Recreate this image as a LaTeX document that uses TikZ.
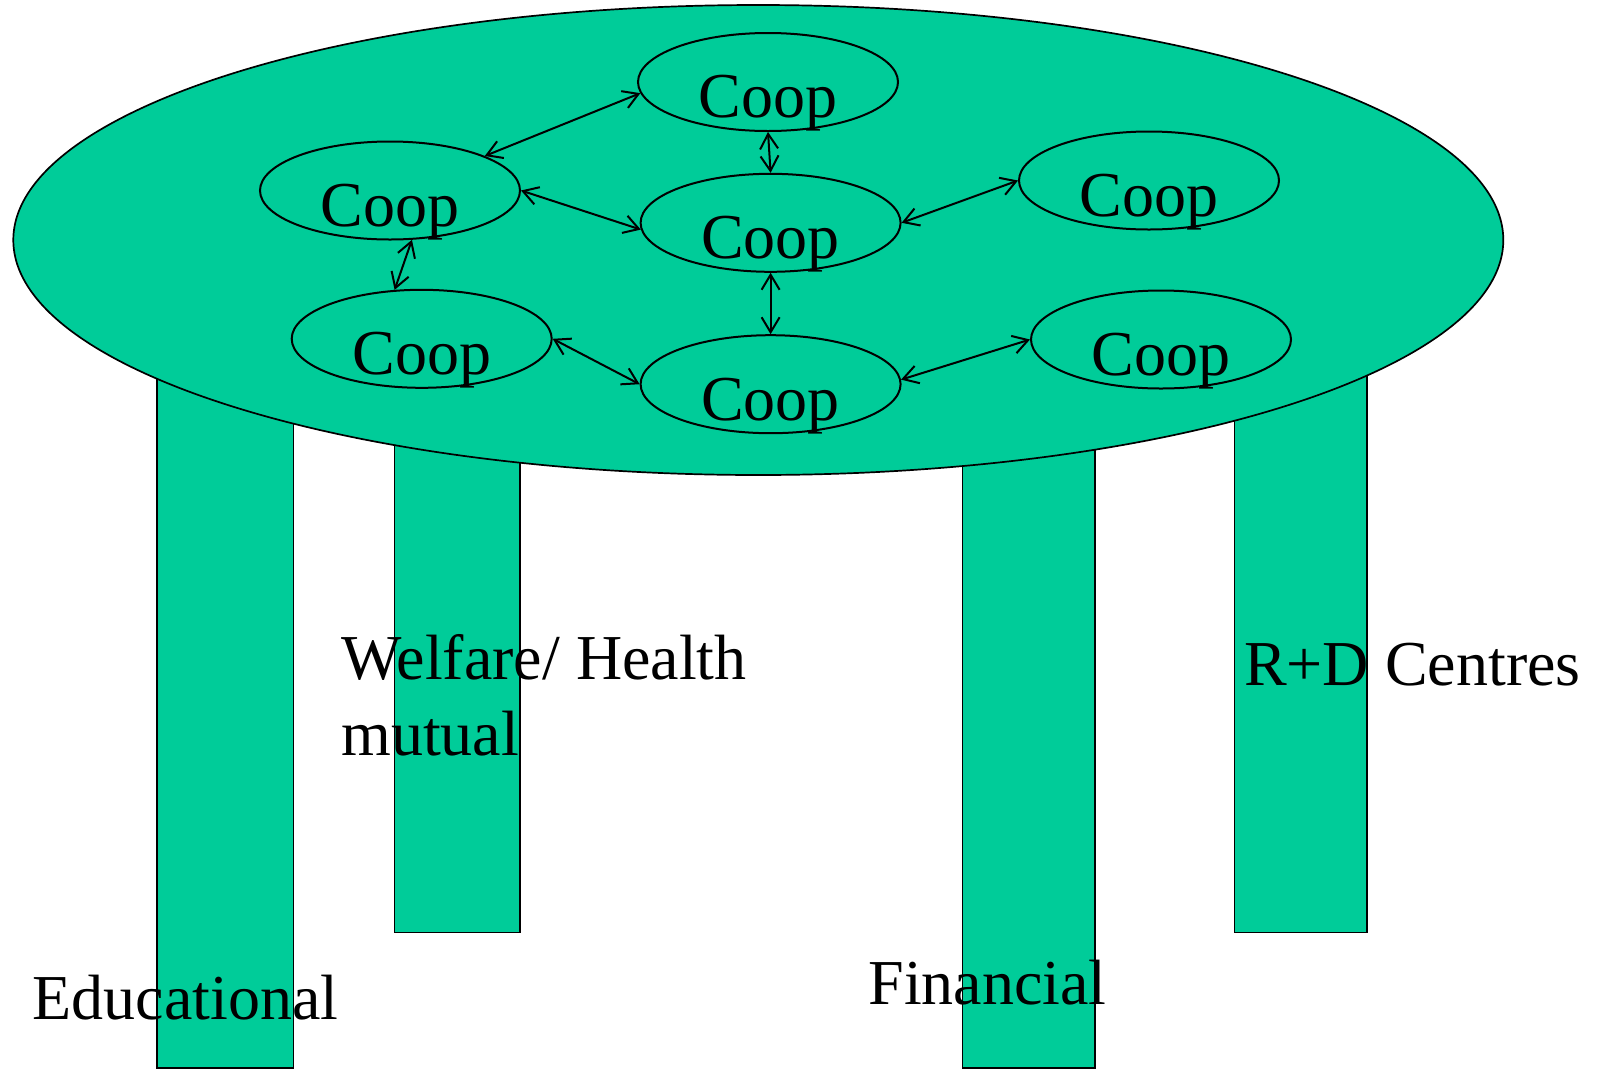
\documentclass[tikz,border=0pt]{standalone}
\usepackage{fontspec}
\setmainfont{Liberation Serif}
\usetikzlibrary{arrows.meta,shapes.geometric}
\definecolor{tealfill}{HTML}{00CC99}
\begin{document}
\begin{tikzpicture}[x=1pt,y=-1pt,
  bigfont/.style={font=\fontsize{64pt}{76pt}\selectfont},
  leg/.style={draw=black,line width=1.4pt,fill=tealfill},
  tabletop/.style={draw=black,line width=1.7pt,fill=tealfill},
  coop/.style={ellipse,draw=black,line width=2pt,fill=tealfill,
    minimum width=260pt,minimum height=98pt,inner sep=0pt,
    label={[bigfont,yshift=-21.5pt,inner sep=0pt]center:Coop}},
  link/.style={line width=2pt,{Straight Barb[length=15pt,width=18pt]}-{Straight Barb[length=15pt,width=18pt]}},
  lbl/.style={bigfont,anchor=base west,inner sep=0pt,align=left}
]
\useasboundingbox (0,0) rectangle (1601,1069);
% legs
\draw[leg] (157,300) rectangle (293.4,1068);
\draw[leg] (394.6,300) rectangle (520,932.5);
\draw[leg] (962.4,300) rectangle (1094.8,1068);
\draw[leg] (1234.5,300) rectangle (1366.8,932.5);
% table top
\draw[tabletop] (758.3,240) ellipse [x radius=745pt, y radius=235pt];
% cooperatives
\node[coop] (c1) at (768,82) {};
\node[coop] (c2) at (390,190.5) {};
\node[coop] (c3) at (770.6,222.8) {};
\node[coop] (c4) at (1149,180.5) {};
\node[coop] (c5) at (421.7,338.8) {};
\node[coop] (c6) at (770.6,384.2) {};
\node[coop] (c7) at (1161,339.5) {};
% links
\draw[link] (c2.20) -- (c1.185);
\draw[link] (c1.south) -- (c3.north);
\draw[link] (c2.east) -- (c3.183);
\draw[link] (c2.-66) -- (c5.119);
\draw[link] (c3.east) -- (c4.west);
\draw[link] (c3.south) -- (c6.north);
\draw[link] (c5.east) -- (c6.west);
\draw[link] (c6.2) -- (c7.west);
% labels
\node[lbl] (edu) at (32.5,1019) {Educational};
\node[lbl] (wel) at (341.2,755) {Welfare/ Health\\mutual};
\node[lbl] (rd) at (1244,685) {R+D Centres};
\node[lbl] (fin) at (868.3,1004) {Financial};
\end{tikzpicture}
\end{document}
